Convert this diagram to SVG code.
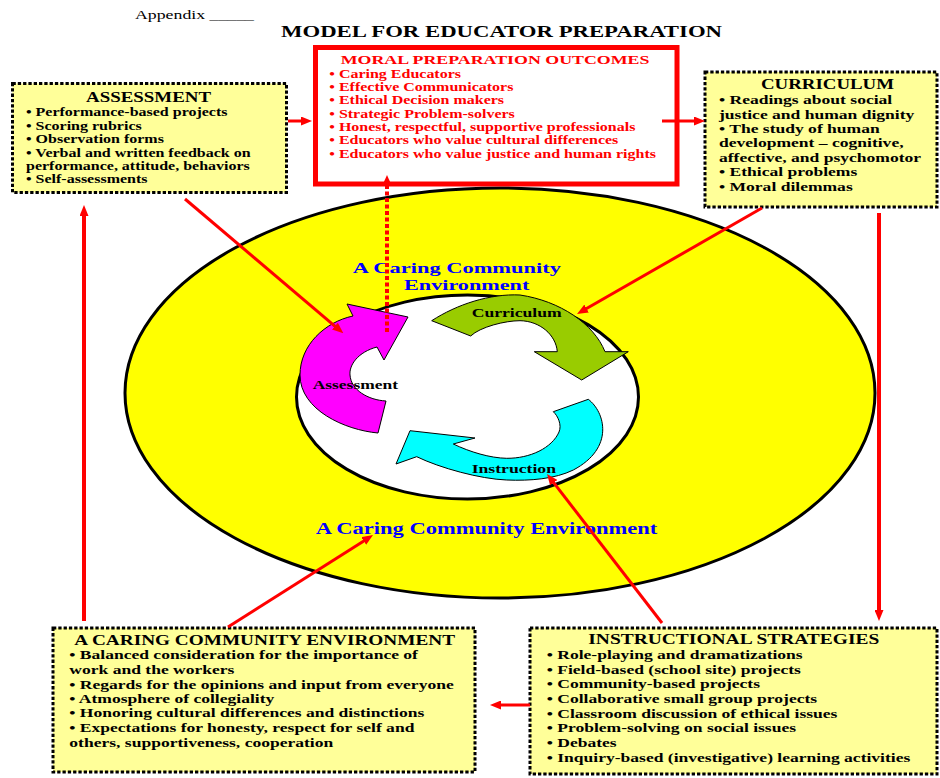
<svg xmlns="http://www.w3.org/2000/svg" width="940" height="778" viewBox="0 0 940 778">
<defs>
<style>
.box{fill:#FFFF99;stroke:#000;stroke-width:3;stroke-dasharray:3.3 2}
.t{font-family:"Liberation Serif","Times New Roman",serif;font-weight:bold}
.s{font-size:12.5px}
.m{font-size:13.5px}
.blue{font-size:15.5px;fill:#0000FF}
.red{fill:#FF0000}
.conn{stroke:#FF0000;stroke-width:3;fill:none;marker-end:url(#ah)}
.thick{stroke-width:4}
.shape{stroke:#000;stroke-width:1}
</style>
<marker id="ah" viewBox="0 0 11 9" refX="1" refY="4.5" markerWidth="11" markerHeight="9" markerUnits="userSpaceOnUse" orient="auto">
<path d="M0,0 L11,4.5 L0,9 Z" fill="#FF0000"/>
</marker>
<marker id="ahs" viewBox="0 0 9 8" refX="1" refY="4" markerWidth="9" markerHeight="8" markerUnits="userSpaceOnUse" orient="auto">
<path d="M0,0 L9,4 L0,8 Z" fill="#FF0000"/>
</marker>
</defs>
<rect width="940" height="778" fill="#FFFFFF"/>

<g id="header">
<text class="t" x="135" y="18.5" textLength="119" lengthAdjust="spacingAndGlyphs" style="font-weight:normal;font-size:13.5px">Appendix _____</text>
<text class="t" x="281" y="37.3" textLength="441" lengthAdjust="spacingAndGlyphs" style="font-size:17px">MODEL FOR EDUCATOR PREPARATION</text>
</g>

<g id="node-ring">
<ellipse cx="500" cy="393" rx="375" ry="205" fill="#FFFF00" stroke="#000" stroke-width="3"/>
<text class="t blue" x="352.7" y="272.8" textLength="208.3" lengthAdjust="spacingAndGlyphs">A Caring Community</text>
<text class="t blue" x="404" y="290.3" textLength="125.3" lengthAdjust="spacingAndGlyphs">Environment</text>
<text class="t blue" x="315.7" y="534" textLength="341.6" lengthAdjust="spacingAndGlyphs" style="font-size:17px">A Caring Community Environment</text>
</g>

<g id="node-inner">
<ellipse cx="467.5" cy="397" rx="171" ry="102" fill="#FFFFFF" stroke="#000" stroke-width="3"/>
</g>

<g id="node-assessment-arrow">
<path class="shape" fill="#FF00FF" d="M353,316 L347,304 L408,317 L384,360 L377,347 C358,352 349,365 350,375 C351,390 368,400 386,401 L378,433 C345,430 300,410 300,375 C300,345 325,322 353,316 Z"/>
<text class="t" x="312.7" y="389" style="font-size:13.5px" textLength="85.3" lengthAdjust="spacingAndGlyphs">Assessment</text>
</g>

<g id="node-curriculum-arrow">
<path class="shape" fill="#99CC00" d="M431.7,320.7 C456.9,304.4 490,293.5 520,295 C560,301 593.9,323.8 605,351.7 L628.3,351.7 L581.7,380 L534.3,351.7 L557.3,351.7 C556,335 540,321 520,320.7 C505,320.7 480,327 470.7,336 Z"/>
<text class="t" x="471.7" y="316.7" style="font-size:13.5px" textLength="90" lengthAdjust="spacingAndGlyphs">Curriculum</text>
</g>

<g id="node-instruction-arrow">
<path class="shape" fill="#00FFFF" d="M588.3,399.3 C605,412 615,448 573.3,470 C555,479 530,481 506.7,480 C480,479 440,468 416.7,456.7 L396,464 L410,430.7 L475,438 L453.3,444 C470,452 490,458 506.7,458.3 C530,458.5 552,448 559,432 C562,425 558,416 553.3,411.7 Z"/>
<text class="t" x="471.7" y="473.3" style="font-size:13.5px" textLength="84.3" lengthAdjust="spacingAndGlyphs">Instruction</text>
</g>

<g id="node-assessment">
<rect class="box" x="12.5" y="83.5" width="274" height="109"/>
<text class="t" x="86" y="102.3" style="font-size:14px" textLength="125" lengthAdjust="spacingAndGlyphs">ASSESSMENT</text>
<g class="t s" transform="matrix(1.28 0 0 1 26 0)">
<text x="0" y="116.5">• Performance-based projects</text>
<text x="0" y="130">• Scoring rubrics</text>
<text x="0" y="143.5">• Observation forms</text>
<text x="0" y="157">• Verbal and written feedback on</text>
<text x="0" y="170">performance, attitude, behaviors</text>
<text x="0" y="183.5">• Self-assessments</text>
</g>
</g>

<g id="node-moral">
<rect x="315.5" y="47.5" width="361.5" height="136.5" fill="#FFFFFF" stroke="#FF0000" stroke-width="5"/>
<text class="t red" x="340.7" y="64" style="font-size:13.5px" textLength="308.7" lengthAdjust="spacingAndGlyphs">MORAL PREPARATION OUTCOMES</text>
<g class="t s red" transform="matrix(1.28 0 0 1 329.3 0)">
<text x="0" y="77.6">• Caring Educators</text>
<text x="0" y="90.9">• Effective Communicators</text>
<text x="0" y="104.3">• Ethical Decision makers</text>
<text x="0" y="117.7">• Strategic Problem-solvers</text>
<text x="0" y="131">• Honest, respectful, supportive professionals</text>
<text x="0" y="144.3">• Educators who value cultural differences</text>
<text x="0" y="158.3">• Educators who value justice and human rights</text>
</g>
</g>

<g id="node-curriculum">
<rect class="box" x="705" y="72" width="232" height="135"/>
<text class="t" x="761" y="89.3" style="font-size:14px" textLength="133" lengthAdjust="spacingAndGlyphs">CURRICULUM</text>
<g class="t m" transform="matrix(1.3 0 0 1 719 0)">
<text x="0" y="104.3">• Readings about social</text>
<text x="0" y="118.7">justice and human dignity</text>
<text x="0" y="133">• The study of human</text>
<text x="0" y="147.4">development – cognitive,</text>
<text x="0" y="161.8">affective, and psychomotor</text>
<text x="0" y="176.2">• Ethical problems</text>
<text x="0" y="190.6">• Moral dilemmas</text>
</g>
</g>

<g id="node-caring">
<rect class="box" x="53" y="628" width="422" height="144"/>
<text class="t" x="74.3" y="645" style="font-size:14px" textLength="380.7" lengthAdjust="spacingAndGlyphs">A CARING COMMUNITY ENVIRONMENT</text>
<g class="t m" transform="matrix(1.3 0 0 1 69.3 0)">
<text x="0" y="659.3">• Balanced consideration for the importance of</text>
<text x="0" y="674">work and the workers</text>
<text x="0" y="689">• Regards for the opinions and input from everyone</text>
<text x="0" y="703.3">• Atmosphere of collegiality</text>
<text x="0" y="717.3">• Honoring cultural differences and distinctions</text>
<text x="0" y="732.3">• Expectations for honesty, respect for self and</text>
<text x="0" y="746.7">others, supportiveness, cooperation</text>
</g>
</g>

<g id="node-strategies">
<rect class="box" x="530" y="628" width="407" height="146"/>
<text class="t" x="588.3" y="644.3" style="font-size:14px" textLength="291" lengthAdjust="spacingAndGlyphs">INSTRUCTIONAL STRATEGIES</text>
<g class="t m" transform="matrix(1.3 0 0 1 546.7 0)">
<text x="0" y="659.3">• Role-playing and dramatizations</text>
<text x="0" y="674.3">• Field-based (school site) projects</text>
<text x="0" y="688.3">• Community-based projects</text>
<text x="0" y="703.3">• Collaborative small group projects</text>
<text x="0" y="717.7">• Classroom discussion of ethical issues</text>
<text x="0" y="732.3">• Problem-solving on social issues</text>
<text x="0" y="746.7">• Debates</text>
<text x="0" y="761.7">• Inquiry-based (investigative) learning activities</text>
</g>
</g>

<g id="connectors">
<line class="conn" x1="288" y1="121" x2="302" y2="121"/>
<line class="conn" x1="662" y1="121" x2="695" y2="121"/>
<line x1="387" y1="332" x2="387" y2="183" stroke="#FF0000" stroke-width="4" stroke-dasharray="4 2.5" marker-end="url(#ahs)"/>
<line class="conn" x1="185" y1="199" x2="335.7" y2="326.8"/>
<line class="conn" x1="762" y1="208" x2="585.7" y2="309"/>
<line class="conn thick" x1="879" y1="213" x2="879" y2="611"/>
<line class="conn" x1="662" y1="623" x2="553.1" y2="481.9"/>
<line class="conn" x1="530" y1="705" x2="500" y2="705"/>
<line class="conn" x1="228" y1="627" x2="364.6" y2="540.4"/>
<line class="conn thick" x1="84" y1="621" x2="84" y2="215"/>
</g>
</svg>
